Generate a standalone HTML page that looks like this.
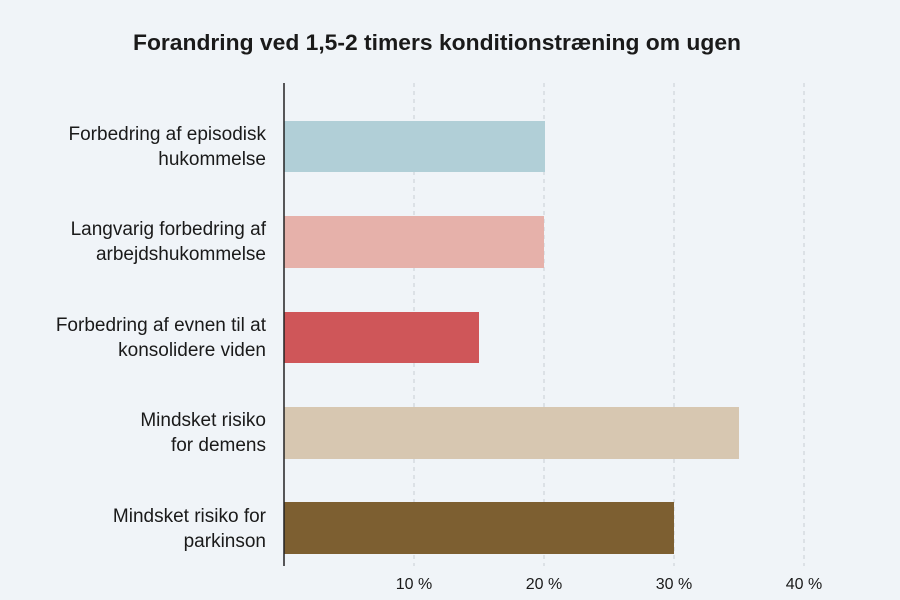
<!DOCTYPE html>
<html><head><meta charset="utf-8"><style>
html,body{margin:0;padding:0;background:#f0f4f8;}
svg{display:block;font-family:"Liberation Sans",sans-serif;}
</style></head><body>
<svg width="900" height="600" viewBox="0 0 900 600">
<rect width="900" height="600" fill="#f0f4f8"/>
<text x="437" y="50" text-anchor="middle" font-size="22" font-weight="bold" fill="#1a1a1a" textLength="608" lengthAdjust="spacingAndGlyphs">Forandring ved 1,5-2 timers konditionstræning om ugen</text>
<g stroke="#c8ced4" stroke-dasharray="4,4" stroke-width="1">
<line x1="414" y1="83" x2="414" y2="566"/>
<line x1="544" y1="83" x2="544" y2="566"/>
<line x1="674" y1="83" x2="674" y2="566"/>
<line x1="804" y1="83" x2="804" y2="566"/>
</g>
<rect x="284" y="121" width="261" height="51" fill="#b1cfd7"/>
<rect x="284" y="216" width="260" height="52" fill="#e6b1aa"/>
<rect x="284" y="312" width="195" height="51" fill="#cf5659"/>
<rect x="284" y="407" width="455" height="52" fill="#d7c7b1"/>
<rect x="284" y="502" width="390" height="52" fill="#7d5f31"/>
<line x1="284" y1="83" x2="284" y2="566" stroke="#222" stroke-width="1.5"/>
<g font-size="16" fill="#1a1a1a" text-anchor="middle">
<text x="414" y="589">10 %</text>
<text x="544" y="589">20 %</text>
<text x="674" y="589">30 %</text>
<text x="804" y="589">40 %</text>
</g>
<g font-size="19" fill="#1a1a1a" text-anchor="end">
<text x="266" y="140">Forbedring af episodisk</text>
<text x="266" y="165">hukommelse</text>
<text x="266" y="235">Langvarig forbedring af</text>
<text x="266" y="260">arbejdshukommelse</text>
<text x="266" y="331">Forbedring af evnen til at</text>
<text x="266" y="356">konsolidere viden</text>
<text x="266" y="426">Mindsket risiko</text>
<text x="266" y="451">for demens</text>
<text x="266" y="522">Mindsket risiko for</text>
<text x="266" y="547">parkinson</text>
</g>
</svg>
</body></html>
